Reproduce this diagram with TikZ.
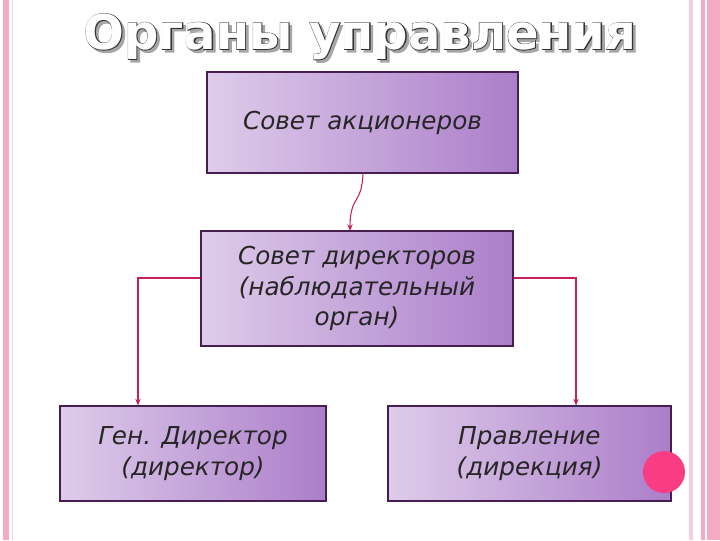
\documentclass[tikz,border=0pt]{standalone}
\usepackage{fontspec}
\setmainfont{DejaVu Sans}
\newfontfamily\boxfont{DejaVu Sans}
\newfontfamily\titlefont[FakeBold=2.5]{DejaVu Sans Bold}
\newfontfamily\titleplain{DejaVu Sans Bold}
\usetikzlibrary{arrows.meta}
\definecolor{pinkA}{RGB}{244,170,195}
\definecolor{pinkB}{RGB}{250,205,220}
\definecolor{boxL}{RGB}{222,204,234}
\definecolor{boxR}{RGB}{172,126,202}
\definecolor{edge}{RGB}{70,30,80}
\definecolor{arr}{RGB}{200,30,90}
\definecolor{dot}{RGB}{250,60,130}
\newcommand{\ttl}{Органы управления}
\tikzset{
  orgbox/.style={draw=edge, line width=0.8pt, left color=boxL, right color=boxR,
    inner sep=0pt, font=\boxfont\itshape\fontsize{18.5}{23}\selectfont, align=center, text=black!85},
  link/.style={draw=arr, line width=0.8pt, -{Stealth[length=5pt,width=4pt]}},
}
\begin{document}
\begin{tikzpicture}[x=0.75pt,y=-0.75pt]
\useasboundingbox (0,0) rectangle (720,540);
\fill[white] (0,0) rectangle (720,540);
% borders
\fill[pinkA] (3,0) rectangle (9,540);
\draw[pinkB, line width=0.6pt] (12,0) -- (12,540);
\fill[pinkB] (689,0) rectangle (693,540);
\fill[pinkA] (701,0) rectangle (705,540);
\fill[pinkA] (707,0) rectangle (720,540);
% title
\node[font=\fontsize{36}{42}\selectfont] (title) at (360,38)
  {\rlap{\kern2pt\raisebox{-2pt}{\titlefont\color{gray!70}\ttl}}\rlap{\titlefont\color{black!80}\ttl}{\titleplain\color{white}\ttl}};
% boxes
\node[orgbox, minimum width=311*0.75pt, minimum height=101*0.75pt] (sa) at (362.5,122.5) {Совет акционеров};
\node[orgbox, minimum width=312*0.75pt, minimum height=115*0.75pt] (sd) at (357,288.5) {Совет директоров\\(наблюдательный\\орган)};
\node[orgbox, minimum width=266*0.75pt, minimum height=95*0.75pt] (gd) at (193,453.5) {Ген. Директор\\(директор)};
\node[orgbox, minimum width=283*0.75pt, minimum height=95*0.75pt] (pr) at (529.5,453.5) {Правление\\(дирекция)};
\fill[dot] (664,472) circle[radius=21*0.75pt];
% connectors
\coordinate (a1) at (363,173);
\coordinate (a2) at (350,231);
\draw[link] (a1) .. controls (362,205) and (350,195) .. (a2);
\coordinate (l1) at (138,278);
\coordinate (r1) at (576,278);
\draw[link] (sd.west |- l1) -- (l1) -- (l1 |- gd.north);
\draw[link] (sd.east |- r1) -- (r1) -- (r1 |- pr.north);
\end{tikzpicture}
\end{document}
